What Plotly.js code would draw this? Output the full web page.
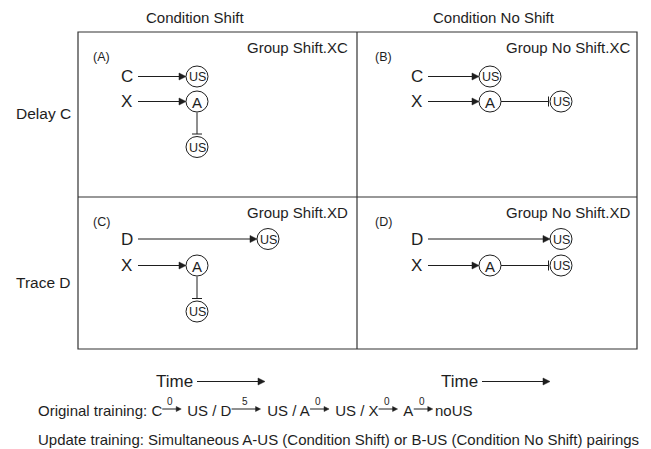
<!DOCTYPE html>
<html><head><meta charset="utf-8">
<script src="https://cdn.plot.ly/plotly-3.0.1.min.js"></script>
<style>html,body{margin:0;padding:0;background:#fff}</style>
</head><body>
<div id="chart" style="width:651px;height:449px"></div>
<script>
// ---- diagram content ----
const colLabels = ['Condition Shift', 'Condition No Shift'];
const rowLabels = ['Delay C', 'Trace D'];
const panelLetters = ['(A)', '(B)', '(C)', '(D)'];
const groupNames = ['Group Shift.XC', 'Group No Shift.XC', 'Group Shift.XD', 'Group No Shift.XD'];
const panelCue = ['C', 'C', 'D', 'D'];          // first cue in each panel
const panelCueSlot = [0, 0, 1, 1];              // time slot of its US
const panelShift = [true, false, true, false];  // A-|US drawn below (shift) or later in time
const trainCues = ['C', 'D', 'A', 'X', 'A'];
const trainOutcomes = ['US', 'US', 'US', 'A', 'noUS'];
const trainDelays = ['0', '5', '0', '0', '0'];
const timeLabel = 'Time';
const updateText = 'Update training: Simultaneous A-US (Condition Shift) or B-US (Condition No Shift) pairings';

// ---- styling / layout ----
const FONT = '"Liberation Sans", Arial, sans-serif';
const INK = '#1e1e1e';
const shapes = [];
const ann = [];

function text(x, y, t, size, xanchor, extra) {
  ann.push(Object.assign({x: x, y: y, xref: 'x', yref: 'y', text: t, showarrow: false,
    xanchor: xanchor || 'center', yanchor: 'middle',
    font: {family: FONT, size: size, color: INK}}, extra || {}));
}
function line(x0, y0, x1, y1, w, c) {
  shapes.push({type: 'line', xref: 'x', yref: 'y', x0: x0, y0: y0, x1: x1, y1: y1,
    line: {color: c || INK, width: w || 1}});
}
function arrowR(x0, x1, y, hl, hw) {
  hl = hl || 7; hw = hw || 3.5;
  line(x0, y, x1 - hl + 1, y);
  shapes.push({type: 'path', xref: 'x', yref: 'y',
    path: 'M' + x1 + ',' + y + ' L' + (x1 - hl) + ',' + (y - hw) + ' L' + (x1 - hl) + ',' + (y + hw) + ' Z',
    fillcolor: INK, line: {color: INK, width: 0.5}});
}
function node(cx, cy, label, size) {
  shapes.push({type: 'circle', xref: 'x', yref: 'y', x0: cx - 11, x1: cx + 11, y0: cy - 10.5, y1: cy + 10.5,
    line: {color: INK, width: 1}});
  text(cx, cy + 0.5, label, size);
}

// outer frame
shapes.push({type: 'rect', xref: 'x', yref: 'y', x0: 78, y0: 32, x1: 637, y1: 349,
  line: {color: '#333', width: 1.2}});
line(357, 32, 357, 349, 1.2, '#333');
line(78, 197, 637, 197, 1.2, '#333');

// headers
const colCenters = [195, 494];
colLabels.forEach((t, i) => text(colCenters[i], 17, t, 15));
const rowCenters = [113, 282];
rowLabels.forEach((t, i) => text(43, rowCenters[i], t, 15.5));

// panels
const colX = [78, 357];
const colRight = [350, 632];
const rowTop = [32, 197];
const rowY = [[76.5, 101.5, 147], [239, 265.5, 311.5]];
for (let p = 0; p < 4; p++) {
  const c = p % 2, r = Math.floor(p / 2);
  const bx = colX[c];
  const lblX = bx + 48.5 + c * 11;
  const slot = [bx + 119 + c * 14, bx + 190 + c * 14];
  const ys = rowY[r];
  text(bx + 23.5 + c * 3, rowTop[r] + 25, panelLetters[p], 12.5);
  text(colRight[c], rowTop[r] + 15.5, groupNames[p], 15, 'right');
  // first cue -> US
  text(lblX, ys[0], panelCue[p], 17);
  const usX = slot[panelCueSlot[p]];
  arrowR(bx + 60 + c * 11, usX - 11, ys[0]);
  node(usX, ys[0], 'US', 12.5);
  // X -> A
  text(lblX, ys[1], 'X', 17);
  arrowR(bx + 60 + c * 11, slot[0] - 11, ys[1]);
  node(slot[0], ys[1], 'A', 15);
  if (panelShift[p]) {
    line(slot[0], ys[1] + 11, slot[0], ys[2] - 13);
    line(slot[0] - 5, ys[2] - 13, slot[0] + 5, ys[2] - 13);
    node(slot[0], ys[2], 'US', 12.5);
  } else {
    line(slot[0] + 11, ys[1], slot[1] - 12.5, ys[1]);
    line(slot[1] - 12.5, ys[1] - 5, slot[1] - 12.5, ys[1] + 5);
    node(slot[1], ys[1], 'US', 12.5);
  }
}

// time arrows
[155, 440].forEach(x => {
  text(x, 381.5, timeLabel, 17, 'left', {borderpad: 0});
  arrowR(x + 42, x + 110, 381.5, 7, 3.5);
});

// original training line, laid out with measured text widths
const BSIZE = 15;
const cv = document.createElement('canvas').getContext('2d');
cv.font = BSIZE + 'px ' + FONT;
const segs = [];
segs.push({t: 'Original training: ' + trainCues[0]});
for (let i = 0; i < trainCues.length; i++) {
  segs.push({arrow: trainDelays[i], len: 20 + 2 * Number(trainDelays[i])});
  if (i + 1 < trainCues.length) {
    if (trainOutcomes[i] === trainCues[i + 1]) segs.push({t: ' ' + trainOutcomes[i]});
    else segs.push({t: ' ' + trainOutcomes[i] + ' / ' + trainCues[i + 1]});
  } else segs.push({t: trainOutcomes[i]});
}
let cx = 37;
const ly = 410;
segs.forEach(s => {
  if (s.t !== undefined) {
    text(cx, ly, s.t, BSIZE, 'left', {borderpad: 0});
    cx += cv.measureText(s.t).width;
  } else {
    arrowR(cx + 1, cx + s.len, ly - 1, 5, 2.5);
    text(cx + s.len / 2 - 1, ly - 9, s.arrow, 10);
    cx += s.len + 1;
  }
});
text(37, 439, updateText, BSIZE, 'left', {borderpad: 0});

Plotly.newPlot('chart', [{x: [0, 651], y: [0, 449], mode: 'none', hoverinfo: 'skip', showlegend: false}], {
  width: 651, height: 449,
  margin: {l: 0, r: 0, t: 0, b: 0},
  paper_bgcolor: '#fff', plot_bgcolor: '#fff',
  xaxis: {range: [0, 651], visible: false, fixedrange: true},
  yaxis: {range: [449, 0], visible: false, fixedrange: true},
  shapes: shapes, annotations: ann, showlegend: false
}, {staticPlot: true});
</script>
</body></html>
